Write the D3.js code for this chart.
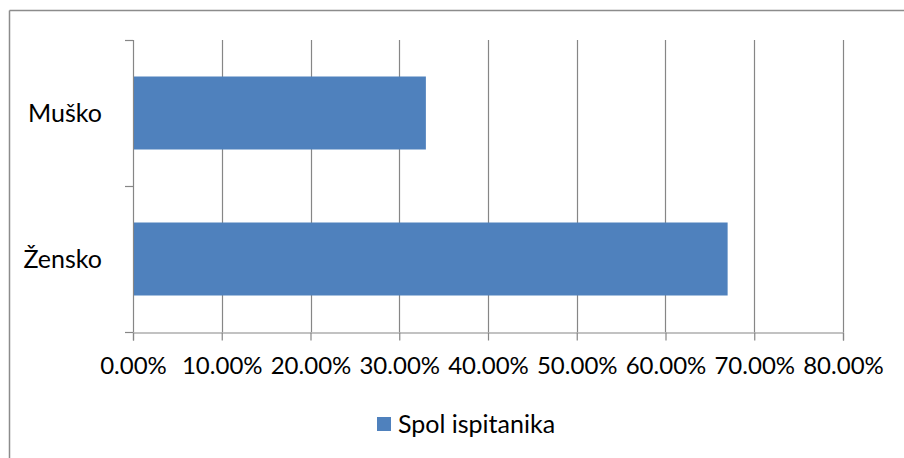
<!DOCTYPE html>
<html>
<head>
<meta charset="utf-8">
<script src="https://cdn.jsdelivr.net/npm/d3@7"></script>
<style>
  body { margin: 0; background: #fff; }
  text { font-family: Lato, "Open Sans", sans-serif; fill: #000; }
</style>
</head>
<body>
<div id="chart"></div>
<script>
// Data
var categories = ["Muško", "Žensko"]
var values = [0.33, 0.67]
var seriesName = "Spol ispitanika"
var xTicks = [0, 0.1, 0.2, 0.3, 0.4, 0.5, 0.6, 0.7, 0.8]

var width = 904, height = 458
var plot = { left: 133, right: 843, top: 40, bottom: 332 }
var grey = "#868686"
var barColor = "#4f81bd"

var svg = d3.select("#chart")
    .append("svg")
    .attr("width", width)
    .attr("height", height)

// Outer frame (only top and left edges show in the picture)
svg.append("line")
    .attr("x1", 9.5).attr("y1", 10.5).attr("x2", width).attr("y2", 10.5)
    .attr("stroke", "#8c8c8c").attr("stroke-width", 1.5)
svg.append("line")
    .attr("x1", 9.5).attr("y1", 10.5).attr("x2", 9.5).attr("y2", height)
    .attr("stroke", "#8c8c8c").attr("stroke-width", 1.5)

// Scales
var x = d3.scaleLinear()
    .domain([0, 0.8])
    .range([plot.left, plot.right])

var y = d3.scaleBand()
    .domain(categories)
    .range([plot.top, plot.bottom])
    .paddingInner(0.5)
    .paddingOuter(0.25)

// Vertical gridlines
svg.append("g")
    .selectAll("line")
    .data(xTicks.slice(1))
    .enter()
    .append("line")
    .attr("x1", function(d) { return Math.round(x(d)) + 0.5 })
    .attr("x2", function(d) { return Math.round(x(d)) + 0.5 })
    .attr("y1", plot.top)
    .attr("y2", plot.bottom)
    .attr("stroke", grey)
    .attr("stroke-width", 1.2)

// X axis
var xAxis = svg.append("g")
    .attr("transform", "translate(0," + (plot.bottom + 0.5) + ")")
    .call(d3.axisBottom(x)
        .tickValues(xTicks)
        .tickSize(8)
        .tickPadding(16)
        .tickFormat(d3.format(".2%")))
xAxis.select(".domain").attr("stroke", grey).attr("stroke-width", 1.2)
xAxis.selectAll(".tick line").attr("stroke", grey).attr("stroke-width", 1.2)
xAxis.selectAll("text")
    .attr("font-size", "24px")
    .attr("font-family", "Lato, sans-serif")
    .attr("fill", "#000")

// Y axis (ticks between categories)
var yEdges = [plot.top, (plot.top + plot.bottom) / 2, plot.bottom]
var yAxis = svg.append("g")
svg.append("line")
    .attr("x1", plot.left + 0.5).attr("x2", plot.left + 0.5)
    .attr("y1", plot.top).attr("y2", plot.bottom)
    .attr("stroke", grey).attr("stroke-width", 1.2)
yAxis.selectAll("line")
    .data(yEdges)
    .enter()
    .append("line")
    .attr("x1", plot.left - 8)
    .attr("x2", plot.left)
    .attr("y1", function(d) { return d + 0.5 })
    .attr("y2", function(d) { return d + 0.5 })
    .attr("stroke", grey)
    .attr("stroke-width", 1.2)

yAxis.selectAll("text")
    .data(categories)
    .enter()
    .append("text")
    .attr("x", plot.left - 31)
    .attr("y", function(d) { return y(d) + y.bandwidth() / 2 })
    .attr("dy", "0.35em")
    .attr("text-anchor", "end")
    .attr("font-size", "25px")
    .text(function(d) { return d })

// Bars
svg.append("g")
    .selectAll("rect")
    .data(values)
    .enter()
    .append("rect")
    .attr("x", x(0) + 1)
    .attr("y", function(d, i) { return y(categories[i]) })
    .attr("width", function(d) { return x(d) - x(0) - 1 })
    .attr("height", y.bandwidth())
    .attr("fill", barColor)

// Legend
var legend = svg.append("g")
    .attr("transform", "translate(377,417)")
legend.append("rect")
    .attr("width", 14)
    .attr("height", 14)
    .attr("fill", barColor)
legend.append("text")
    .attr("x", 21)
    .attr("y", 7)
    .attr("dy", "0.35em")
    .attr("font-size", "25px")
    .text(seriesName)
</script>
</body>
</html>
